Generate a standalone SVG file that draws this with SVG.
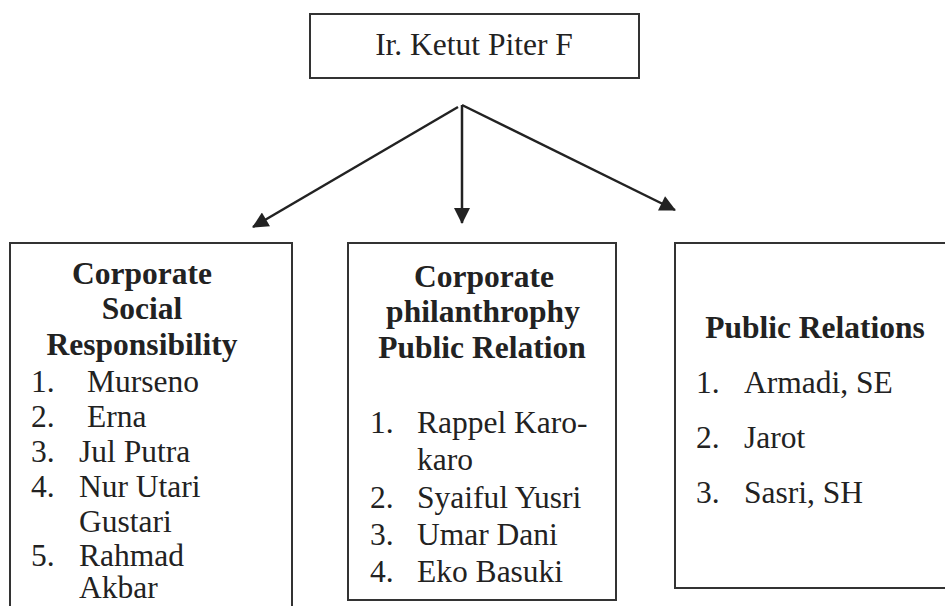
<svg xmlns="http://www.w3.org/2000/svg" width="945" height="606" viewBox="0 0 945 606">
<style>
.box{fill:#fff;stroke:#333;stroke-width:2}
.t{font-family:"Liberation Serif","DejaVu Serif","Times New Roman",serif;font-size:31.5px;fill:#222}
.b{font-weight:bold;text-anchor:middle}
.c{text-anchor:middle}
.ln{stroke:#222;stroke-width:2.5;fill:none;marker-end:url(#ah)}
</style>
<defs>
<marker id="ah" viewBox="0 0 16 16" refX="15" refY="8" markerWidth="17" markerHeight="16" markerUnits="userSpaceOnUse" orient="auto">
<path d="M0,0 L16,8 L0,16 z" fill="#222"/>
</marker>
</defs>
<rect width="945" height="606" fill="#fff"/>
<g id="connectors">
<line class="ln" x1="458" y1="107" x2="253" y2="227"/>
<line class="ln" x1="462" y1="105" x2="462" y2="223"/>
<line class="ln" x1="462" y1="105" x2="675" y2="210"/>
</g>
<g id="head">
<rect class="box" x="310" y="14" width="329" height="64"/>
<text class="t c" x="474" y="55">Ir. Ketut Piter F</text>
</g>
<g id="csr">
<rect class="box" x="10" y="243" width="282" height="400"/>
<text class="t b" x="142" y="284">Corporate</text>
<text class="t b" x="142" y="319">Social</text>
<text class="t b" x="142" y="355">Responsibility</text>
<text class="t" x="31" y="392">1.</text><text class="t" x="87" y="392">Murseno</text>
<text class="t" x="31" y="427">2.</text><text class="t" x="87" y="427">Erna</text>
<text class="t" x="31" y="462">3.</text><text class="t" x="79" y="462">Jul Putra</text>
<text class="t" x="31" y="497">4.</text><text class="t" x="79" y="497">Nur Utari</text>
<text class="t" x="79" y="532">Gustari</text>
<text class="t" x="31" y="566">5.</text><text class="t" x="79" y="566">Rahmad</text>
<text class="t" x="79" y="598">Akbar</text>
</g>
<g id="cppr">
<rect class="box" x="348" y="243" width="268" height="357"/>
<text class="t b" x="484" y="287">Corporate</text>
<text class="t b" x="483" y="322">philanthrophy</text>
<text class="t b" x="482" y="358">Public Relation</text>
<text class="t" x="370" y="433">1.</text><text class="t" x="417" y="433">Rappel Karo-</text>
<text class="t" x="417" y="470">karo</text>
<text class="t" x="370" y="508">2.</text><text class="t" x="417" y="508">Syaiful Yusri</text>
<text class="t" x="370" y="545">3.</text><text class="t" x="417" y="545">Umar Dani</text>
<text class="t" x="370" y="582">4.</text><text class="t" x="417" y="582">Eko Basuki</text>
</g>
<g id="pr">
<rect class="box" x="675" y="243" width="300" height="345"/>
<text class="t b" x="815" y="338">Public Relations</text>
<text class="t" x="696" y="393">1.</text><text class="t" x="744" y="393">Armadi, SE</text>
<text class="t" x="696" y="448">2.</text><text class="t" x="744" y="448">Jarot</text>
<text class="t" x="696" y="503">3.</text><text class="t" x="744" y="503">Sasri, SH</text>
</g>
</svg>
